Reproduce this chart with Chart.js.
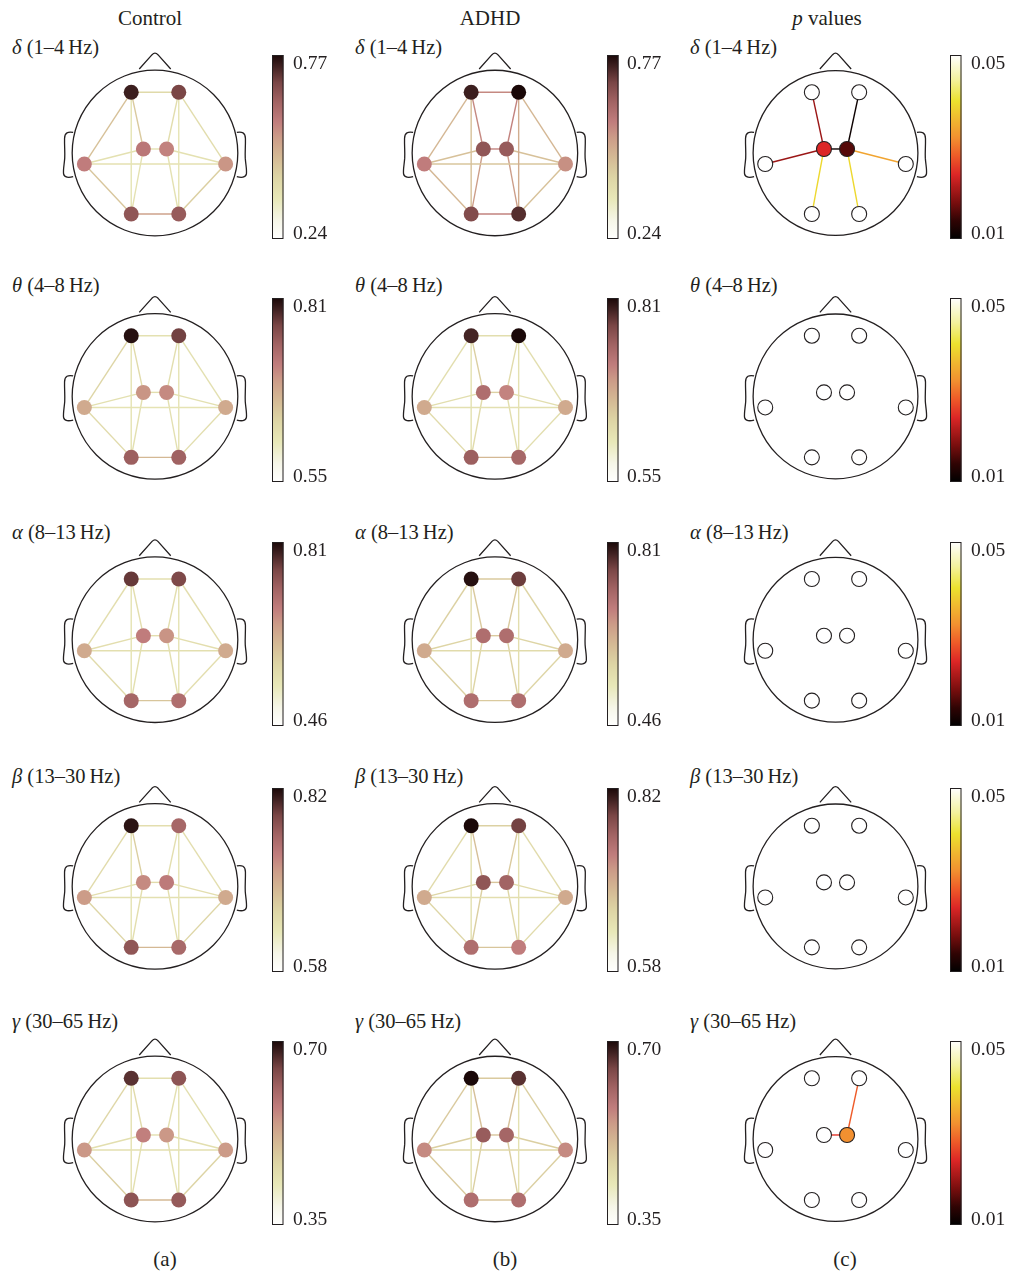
<!DOCTYPE html>
<html>
<head>
<meta charset="utf-8">
<script src="https://cdn.jsdelivr.net/npm/chart.js@4.4.1/dist/chart.umd.min.js"></script>
<style>
html,body{margin:0;padding:0;background:#fff;}
#page{position:relative;width:1009px;height:1271px;overflow:hidden;font-family:"Liberation Serif","Times New Roman",serif;color:#231f20;background:#fff;}
.t{position:absolute;white-space:nowrap;line-height:1;}
canvas{position:absolute;}
</style>
</head>
<body>
<div id="page"></div>
<script>
// ---------------- DATA ----------------
const electrodes = ['F3','F4','C3','C4','T3','T4','P3','P4'];
const electrodeX = [-0.287, 0.287, -0.14, 0.14, -0.853, 0.853, -0.287, 0.287];
const electrodeY = [0.71, 0.71, 0.047, 0.047, -0.129, -0.129, -0.713, -0.713];
// edges: F3-F4, F3-T3, F3-C3, F3-P3, F4-C4, F4-T4, F4-P4, C3-C4, C3-T3, C4-T4, T3-T4, C3-P3, C4-P4, T3-P3, T4-P4, P3-P4
const edgeFrom = [0,0,0,0,1,1,1,2,2,3,4,2,3,4,5,6];
const edgeTo   = [1,4,2,6,3,5,7,3,4,5,5,6,7,6,7,7];

const bandSymbols = ['δ','θ','α','β','γ'];
const bandRanges = ['1–4','4–8','8–13','13–30','30–65'];
const scaleMin = [0.24, 0.55, 0.46, 0.58, 0.35];
const scaleMax = [0.77, 0.81, 0.81, 0.82, 0.70];
const pMin = 0.01, pMax = 0.05;

const controlNodes = [
  [0.74, 0.69, 0.59, 0.57, 0.58, 0.54, 0.66, 0.65],
  [0.805, 0.774, 0.698, 0.706, 0.68, 0.68, 0.748, 0.745],
  [0.768, 0.754, 0.684, 0.66, 0.635, 0.635, 0.716, 0.705],
  [0.813, 0.755, 0.724, 0.736, 0.712, 0.70, 0.77, 0.753],
  [0.665, 0.63, 0.571, 0.546, 0.546, 0.543, 0.63, 0.623]
];
const controlEdges = [
  [0.40, 0.46, 0.44, 0.37, 0.39, 0.39, 0.37, 0.38, 0.38, 0.38, 0.38, 0.38, 0.38, 0.45, 0.43, 0.52],
  [0.618, 0.636, 0.628, 0.615, 0.623, 0.62, 0.615, 0.623, 0.62, 0.62, 0.615, 0.62, 0.62, 0.628, 0.623, 0.667],
  [0.555, 0.558, 0.558, 0.548, 0.558, 0.558, 0.548, 0.558, 0.558, 0.558, 0.555, 0.555, 0.555, 0.565, 0.558, 0.60],
  [0.647, 0.652, 0.666, 0.64, 0.647, 0.647, 0.64, 0.652, 0.647, 0.647, 0.645, 0.647, 0.647, 0.659, 0.659, 0.688],
  [0.445, 0.462, 0.455, 0.441, 0.445, 0.445, 0.438, 0.445, 0.445, 0.445, 0.445, 0.445, 0.445, 0.476, 0.469, 0.508]
];
const adhdNodes = [
  [0.74, 0.77, 0.66, 0.65, 0.58, 0.55, 0.68, 0.72],
  [0.792, 0.81, 0.732, 0.711, 0.68, 0.68, 0.748, 0.74],
  [0.803, 0.765, 0.705, 0.705, 0.635, 0.635, 0.705, 0.705],
  [0.82, 0.786, 0.77, 0.758, 0.70, 0.70, 0.748, 0.734],
  [0.70, 0.665, 0.62, 0.606, 0.56, 0.56, 0.595, 0.595]
];
const adhdEdges = [
  [0.56, 0.48, 0.56, 0.46, 0.57, 0.48, 0.50, 0.57, 0.46, 0.46, 0.45, 0.53, 0.53, 0.48, 0.46, 0.57],
  [0.623, 0.623, 0.644, 0.618, 0.628, 0.623, 0.618, 0.641, 0.623, 0.623, 0.62, 0.628, 0.623, 0.628, 0.623, 0.667],
  [0.593, 0.583, 0.593, 0.558, 0.593, 0.576, 0.558, 0.593, 0.576, 0.576, 0.565, 0.576, 0.583, 0.583, 0.576, 0.593],
  [0.664, 0.652, 0.681, 0.645, 0.671, 0.652, 0.645, 0.676, 0.659, 0.652, 0.647, 0.666, 0.659, 0.659, 0.652, 0.676],
  [0.483, 0.483, 0.497, 0.441, 0.497, 0.476, 0.441, 0.49, 0.476, 0.476, 0.462, 0.476, 0.476, 0.483, 0.476, 0.49]
];
const N = null;
const pNodes = [
  [N, N, 0.024, 0.016, N, N, N, N],
  [N, N, N, N, N, N, N, N],
  [N, N, N, N, N, N, N, N],
  [N, N, N, N, N, N, N, N],
  [N, N, N, 0.032, N, N, N, N]
];
const pEdges = [
  [N, N, 0.020, N, 0.011, N, N, 0.011, 0.020, 0.034, N, 0.039, 0.039, N, N, N],
  [N, N, N, N, N, N, N, N, N, N, N, N, N, N, N, N],
  [N, N, N, N, N, N, N, N, N, N, N, N, N, N, N, N],
  [N, N, N, N, N, N, N, N, N, N, N, N, N, N, N, N],
  [N, N, N, N, 0.028, N, N, 0.025, N, N, N, N, N, N, N, N]
];
const columnTitles = ['Control', 'ADHD', '<i>p</i> values'];
const panelLetters = ['(a)', '(b)', '(c)'];

// ---------------- STYLE / LAYOUT ----------------
const INK = '#231f20';
const FONT = '"Liberation Serif","Times New Roman",serif';
const R = 85.5;
const colCx = [151.2, 491.2, 831.2];
const colCb = [272, 607, 950];
const colPad = [21, 20, 21];
const colLabelX = [12, 355, 690];
const rowCy = [153, 396.4, 639.7, 886.4, 1139];
const rowLabelY = [46.7, 285, 532, 776, 1021];

function hexToRgb(h){return [parseInt(h.slice(1,3),16),parseInt(h.slice(3,5),16),parseInt(h.slice(5,7),16)];}
function makeCmap(stops){
  const s = stops.map(([t,h]) => [t, hexToRgb(h)]);
  return t => {
    t = Math.max(0, Math.min(1, t));
    for (let i = 1; i < s.length; i++) {
      if (t <= s[i][0]) {
        const a = s[i-1], b = s[i];
        const f = (t - a[0]) / (b[0] - a[0]);
        const c = a[1].map((v, j) => Math.round(v + (b[1][j] - v) * f));
        return 'rgb(' + c.join(',') + ')';
      }
    }
    return 'rgb(' + s[s.length-1][1].join(',') + ')';
  };
}
const netCmap = makeCmap([
  [0.00,'#ffffff'],[0.10,'#f6f6e8'],[0.22,'#e8e8b8'],[0.34,'#ddd4a4'],[0.45,'#d4b894'],
  [0.55,'#cc9c88'],[0.64,'#c07c7c'],[0.75,'#a06262'],[0.85,'#7a4646'],[0.94,'#3e2020'],[1.00,'#1a0808']
]);
const hotCmap = makeCmap([
  [0.00,'#000000'],[0.10,'#300404'],[0.20,'#7a0e0e'],[0.35,'#dc2626'],[0.45,'#ee5a28'],
  [0.55,'#f29030'],[0.65,'#f0b830'],[0.75,'#ece22e'],[0.87,'#f4f2a0'],[1.00,'#ffffff']
]);

const page = document.getElementById('page');
function addText(html, x, y, center, size){
  const d = document.createElement('div');
  d.className = 't';
  d.innerHTML = html;
  d.style.left = x + 'px';
  d.style.top = y + 'px';
  d.style.fontSize = size + 'px';
  d.style.transform = center ? 'translate(-50%,-50%)' : 'translate(0,-50%)';
  page.appendChild(d);
}

const headPlugin = {
  id: 'head',
  beforeDatasetsDraw(chart){
    const {ctx, scales:{x, y}} = chart;
    const px = v => x.getPixelForValue(v), py = v => y.getPixelForValue(v);
    const r = px(1) - px(0);
    ctx.save();
    ctx.strokeStyle = INK; ctx.lineWidth = 1.3; ctx.lineJoin = 'round';
    ctx.beginPath();
    ctx.moveTo(px(-0.19), py(0.982));
    ctx.lineTo(px(-0.035), py(1.15));
    ctx.quadraticCurveTo(px(0), py(1.185), px(0.035), py(1.15));
    ctx.lineTo(px(0.19), py(0.982));
    ctx.stroke();
    for (const s of [-1, 1]) {
      ctx.beginPath();
      ctx.moveTo(px(s*0.988), py(0.24));
      ctx.bezierCurveTo(px(s*1.05), py(0.25), px(s*1.09), py(0.24), px(s*1.092), py(0.17));
      ctx.bezierCurveTo(px(s*1.094), py(0.08), px(s*1.086), py(0.02), px(s*1.09), py(-0.06));
      ctx.bezierCurveTo(px(s*1.096), py(-0.14), px(s*1.11), py(-0.19), px(s*1.104), py(-0.245));
      ctx.bezierCurveTo(px(s*1.095), py(-0.29), px(s*1.04), py(-0.29), px(s*0.988), py(-0.277));
      ctx.stroke();
    }
    ctx.beginPath();
    ctx.arc(px(0), py(0), r, 0, Math.PI*2);
    ctx.fillStyle = '#ffffff';
    ctx.fill();
    ctx.stroke();
    ctx.restore();
  }
};
function colorbarPlugin(cmap){
  return {
    id: 'colorbar',
    afterDraw(chart){
      const s = chart.scales.cb, ctx = chart.ctx;
      const x0 = s.left, top = s.getPixelForValue(s.max), bot = s.getPixelForValue(s.min);
      const w = 11.5;
      const g = ctx.createLinearGradient(0, bot, 0, top);
      for (let i = 0; i <= 60; i++) g.addColorStop(i/60, cmap(i/60));
      ctx.save();
      ctx.fillStyle = g;
      ctx.fillRect(x0, top, w, bot - top);
      ctx.strokeStyle = INK; ctx.lineWidth = 1;
      ctx.strokeRect(x0 + 0.5, top + 0.5, w - 1, bot - top - 1);
      ctx.restore();
    }
  };
}

function panel(row, col, nodeVals, edgeVals, vmin, vmax, cmap, isP){
  const cx = colCx[col], cy = rowCy[row], cbL = colCb[col];
  const left = Math.round(cx - 118);
  const areaTop = Math.round(cy - 98);
  const padT = 14, padB = 14, areaH = 184, axisW = 62;
  const top = areaTop - padT;
  const areaW = cbL - left;
  const W = areaW + axisW, H = areaH + padT + padB;
  const canvas = document.createElement('canvas');
  canvas.width = W; canvas.height = H;
  canvas.style.left = left + 'px'; canvas.style.top = top + 'px';
  canvas.style.width = W + 'px'; canvas.style.height = H + 'px';
  page.appendChild(canvas);
  const xMin = (left - cx) / R, xMax = (cbL - cx) / R;
  const yMax = (cy - areaTop) / R, yMin = (cy - (areaTop + areaH)) / R;
  const norm = v => (v - vmin) / (vmax - vmin);

  const datasets = [{
    data: electrodeX.map((x, i) => ({x, y: electrodeY[i]})),
    showLine: false,
    pointRadius: 7.5,
    pointBackgroundColor: nodeVals.map(v => v == null ? '#ffffff' : cmap(norm(v))),
    pointBorderColor: isP ? INK : 'rgba(0,0,0,0)',
    pointBorderWidth: isP ? 1.1 : 0,
    clip: false,
    order: 0
  }];
  edgeVals.forEach((v, k) => {
    if (v == null) return;
    const a = edgeFrom[k], b = edgeTo[k];
    datasets.push({
      data: [{x: electrodeX[a], y: electrodeY[a]}, {x: electrodeX[b], y: electrodeY[b]}],
      showLine: true,
      borderColor: cmap(norm(v)),
      borderWidth: 1.4,
      pointRadius: 0,
      clip: false,
      order: 1
    });
  });
  new Chart(canvas, {
    type: 'scatter',
    data: {datasets},
    options: {
      responsive: false,
      animation: false,
      events: [],
      layout: {padding: {top: padT, bottom: padB, left: 0, right: 0}},
      plugins: {legend: {display: false}, tooltip: {enabled: false}},
      scales: {
        x: {type: 'linear', display: false, min: xMin, max: xMax},
        y: {type: 'linear', display: false, min: yMin, max: yMax},
        cb: {
          type: 'linear', axis: 'y', position: 'right', min: vmin, max: vmax,
          grid: {display: false, drawTicks: false, tickLength: 0}, border: {display: false},
          afterBuildTicks: s => { s.ticks = [{value: vmin}, {value: vmax}]; },
          afterFit: s => { s.width = axisW; s.paddingTop = 0; s.paddingBottom = 0; },
          ticks: {
            padding: colPad[col], color: INK, autoSkip: false,
            font: c => ({family: FONT, size: 19.5, lineHeight: c.index === 0 ? 0.55 : 0.93}),
            callback: v => {
              const lbl = Number(v).toFixed(2);
              return Math.abs(v - vmax) < 1e-9 ? ['', lbl] : [lbl, ''];
            }
          }
        }
      }
    },
    plugins: [headPlugin, colorbarPlugin(cmap)]
  });
}

// ---------------- BUILD ----------------
columnTitles.forEach((t, c) => addText(t, [150, 490, 827][c], 18.3, true, 21));
panelLetters.forEach((t, c) => addText(t, [165, 505, 845][c], 1259, true, 21));
for (let r = 0; r < 5; r++) {
  for (let c = 0; c < 3; c++) {
    addText('<i>' + bandSymbols[r] + '</i> (' + bandRanges[r] + '\u2009Hz)', colLabelX[c], rowLabelY[r], false, 20.5);
  }
  panel(r, 0, controlNodes[r], controlEdges[r], scaleMin[r], scaleMax[r], netCmap, false);
  panel(r, 1, adhdNodes[r], adhdEdges[r], scaleMin[r], scaleMax[r], netCmap, false);
  panel(r, 2, pNodes[r], pEdges[r], pMin, pMax, hotCmap, true);
}
</script>
</body>
</html>
